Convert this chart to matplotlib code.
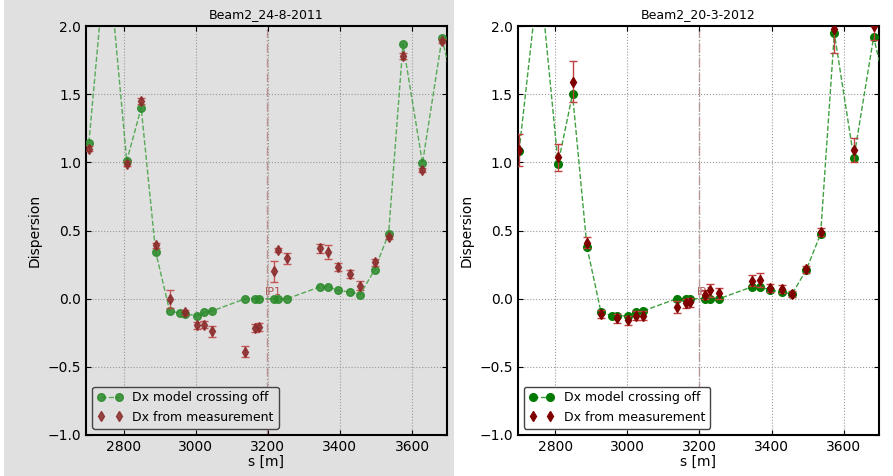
import matplotlib.pyplot as plt
from matplotlib.patches import Rectangle

# Beam2, 24-8-2011
s_model_2011 = [2704, 2754, 2809, 2849, 2889, 2928, 2958, 2971, 3004, 3024, 3046,
                3138, 3164, 3175, 3217, 3228, 3254, 3346, 3368, 3394, 3427, 3456,
                3496, 3535, 3575, 3629, 3683, 3720]
dx_model_2011 = [1.145, 2.6, 1.01, 1.40, 0.345, -0.09, -0.107, -0.11, -0.127, -0.10, -0.09,
                 0.0, 0.0, 0.0, 0.0, 0.0, 0.0, 0.088, 0.088, 0.06, 0.05, 0.03,
                 0.21, 0.475, 1.87, 0.993, 1.91, 1.5]
s_meas_2011 = [2704, 2809, 2849, 2889, 2928, 2971, 3004, 3024, 3046, 3138, 3164, 3175,
               3217, 3228, 3254, 3346, 3368, 3394, 3427, 3456, 3496, 3535, 3575, 3629, 3683]
dx_meas_2011 = [1.10, 0.99, 1.45, 0.39, 0.0, -0.10, -0.195, -0.19, -0.24, -0.39, -0.215, -0.21,
                0.20, 0.355, 0.295, 0.37, 0.34, 0.23, 0.18, 0.093, 0.267, 0.45, 1.78, 0.944, 1.89]
err_2011 = [0.02, 0.02, 0.025, 0.02, 0.065, 0.02, 0.025, 0.025, 0.043, 0.04, 0.03, 0.03,
            0.075, 0.015, 0.043, 0.034, 0.05, 0.03, 0.03, 0.033, 0.025, 0.015, 0.02, 0.015, 0.015]

# Beam2, 20-3-2012
s_model_2012 = [2700, 2756, 2808, 2848, 2888, 2927, 2957, 2970, 3002, 3024, 3044,
                3137, 3163, 3174, 3216, 3228, 3255, 3347, 3367, 3396, 3429, 3457,
                3496, 3536, 3574, 3628, 3683, 3720]
dx_model_2012 = [1.086, 2.41, 0.99, 1.50, 0.38, -0.10, -0.125, -0.125, -0.127, -0.10, -0.09,
                 0.0, 0.0, 0.0, 0.0, 0.0, 0.0, 0.088, 0.088, 0.064, 0.047, 0.035,
                 0.21, 0.475, 1.947, 1.03, 1.92, 1.5]
s_meas_2012 = [2700, 2808, 2848, 2888, 2927, 2970, 3002, 3024, 3044, 3137, 3163, 3174,
               3216, 3228, 3255, 3347, 3367, 3396, 3429, 3457, 3496, 3536, 3574, 3628, 3683]
dx_meas_2012 = [1.09, 1.037, 1.59, 0.41, -0.11, -0.145, -0.16, -0.125, -0.125, -0.06, -0.035, -0.027,
                0.03, 0.06, 0.04, 0.13, 0.137, 0.076, 0.07, 0.035, 0.216, 0.487, 1.98, 1.09, 2.0]
err_2012 = [0.12, 0.1, 0.15, 0.04, 0.03, 0.035, 0.03, 0.035, 0.035, 0.045, 0.035, 0.035,
            0.03, 0.045, 0.04, 0.04, 0.05, 0.03, 0.03, 0.02, 0.025, 0.03, 0.18, 0.09, 0.1]

ip1_s = 3198
titles = ["Beam2_24-8-2011", "Beam2_20-3-2012"]

panels = [
    (s_model_2011, dx_model_2011, s_meas_2011, dx_meas_2011, err_2011),
    (s_model_2012, dx_model_2012, s_meas_2012, dx_meas_2012, err_2012),
]
gray = "#e0e0e0"

fig = plt.figure(figsize=(8.93, 4.76), dpi=100, facecolor="white")
fig.patches.append(Rectangle((4 / 893, 0), 450 / 893, 1, transform=fig.transFigure,
                             facecolor=gray, edgecolor="none", zorder=-10))

ax_lefts = [86 / 893, 517.7 / 893]
for i, (sm, dm, sx, dx, err) in enumerate(panels):
    ax = fig.add_axes([ax_lefts[i], 41 / 476, 361 / 893, 409 / 476])
    bg = gray if i == 0 else "white"
    ax.set_facecolor(bg)
    alpha = 0.85 if i == 0 else 1.0
    gcol = "#2a8a2a" if i == 0 else "#007a00"
    rcol = "#8a2a2a" if i == 0 else "#800000"

    ax.axvline(ip1_s, color="#b07070", linestyle="-.", linewidth=1, alpha=0.7, zorder=1)
    ax.text(ip1_s - 6, 0.015, "IP1", color="#b05050", fontsize=8, ha="left", va="bottom", zorder=1)

    ax.plot(sm, dm, "--o", color="#40a040", markerfacecolor=gcol, markeredgecolor=gcol,
            markersize=5.5, linewidth=1, alpha=alpha, label="Dx model crossing off", zorder=3)
    ax.errorbar(sx, dx, yerr=err, fmt="none", ecolor="#c04040", elinewidth=1,
                capsize=3, alpha=alpha, zorder=4)
    ax.plot(sx, dx, "d", color=rcol, markeredgecolor=rcol, markersize=5.5,
            alpha=alpha, label="Dx from measurement", zorder=5)

    ax.set_xlim(2696, 3697)
    ax.set_ylim(-1.0, 2.0)
    ax.set_xticks([2800, 3000, 3200, 3400, 3600])
    ax.set_yticks([-1.0, -0.5, 0.0, 0.5, 1.0, 1.5, 2.0])
    ax.tick_params(labelsize=10, direction="in", top=True, right=True)
    ax.grid(True, linestyle=":", color="#999999", linewidth=0.8)
    for sp in ax.spines.values():
        sp.set_linewidth(1.5)
    ax.set_xlabel("s [m]", fontsize=10, labelpad=1)
    ax.set_ylabel("Dispersion", fontsize=10)
    ax.set_title(titles[i], fontsize=9)
    leg = ax.legend(loc="lower left", fontsize=9, numpoints=2, facecolor=bg,
                    edgecolor="#444444", framealpha=1)

plt.savefig("out.png", dpi=100, facecolor=fig.get_facecolor())
